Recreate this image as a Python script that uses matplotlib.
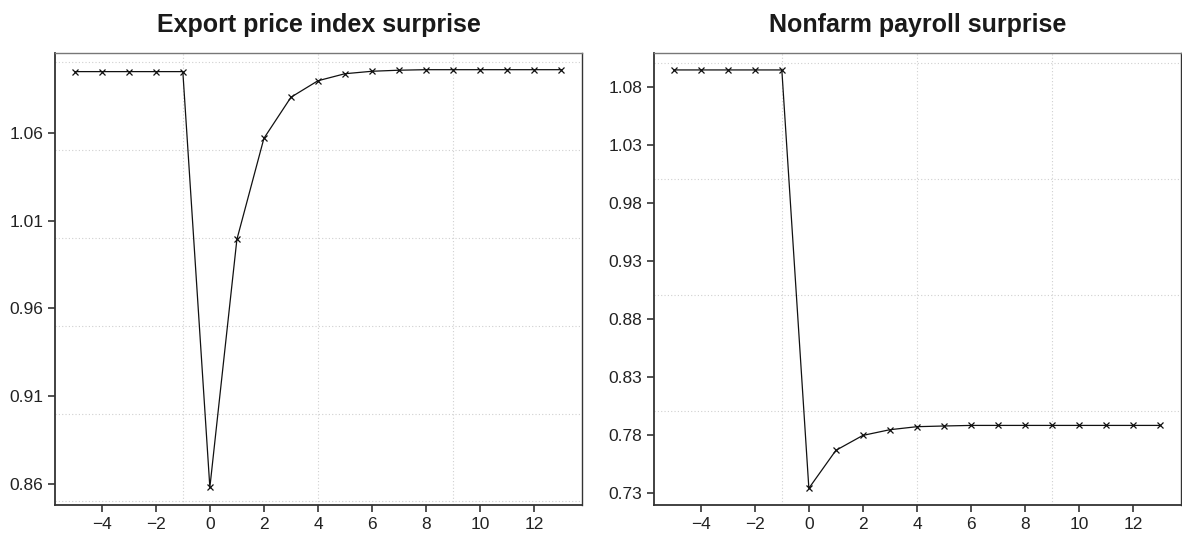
import matplotlib
matplotlib.use("Agg")
import matplotlib.pyplot as plt

plt.rcParams['font.family'] = ['Liberation Sans', 'DejaVu Sans']

horizons = list(range(-5, 14))
export_price = [1.0948, 1.0948, 1.0948, 1.0948, 1.0948, 0.858, 0.9992, 1.0568, 1.0802,
                1.0896, 1.0936, 1.0950, 1.0956, 1.0959, 1.0959, 1.0959, 1.0959, 1.0959, 1.0959]
nonfarm = [1.0944, 1.0944, 1.0944, 1.0944, 1.0944, 0.7338, 0.7665, 0.7794, 0.7843,
           0.7869, 0.7875, 0.7880, 0.7880, 0.7880, 0.7880, 0.7880, 0.7880, 0.7880, 0.7880]

titles = ["Export price index surprise", "Nonfarm payroll surprise"]
xticks = [-4, -2, 0, 2, 4, 6, 8, 10, 12]
yticks_left = [0.86, 0.91, 0.96, 1.01, 1.06]
yticks_right = [0.73, 0.78, 0.83, 0.88, 0.93, 0.98, 1.03, 1.08]
xgrid = [-1, 4, 9]
ygrid_left = [0.85, 0.90, 0.95, 1.00, 1.05, 1.10]
ygrid_right = [0.80, 0.90, 1.00, 1.10]
ylims = [(0.848, 1.1054), (0.7194, 1.109)]

fig = plt.figure(figsize=(11.82, 5.36), dpi=100)
ax1 = fig.add_axes([55/1182, 1-505/536, (582-55)/1182, (505-53)/536])
ax2 = fig.add_axes([654/1182, 1-505/536, (1181-654)/1182, (505-53)/536])

for ax, y, title, yt, yg, yl in [(ax1, export_price, titles[0], yticks_left, ygrid_left, ylims[0]),
                                 (ax2, nonfarm, titles[1], yticks_right, ygrid_right, ylims[1])]:
    for gx in xgrid:
        ax.axvline(gx, color='#d0d0d0', lw=0.8, ls=(0, (1, 2)), zorder=0)
    for gy in yg:
        ax.axhline(gy, color='#d0d0d0', lw=0.8, ls=(0, (1, 2)), zorder=0)
    ax.plot(horizons, y, color='#111111', lw=0.9, marker='x', markersize=4.5,
            markeredgewidth=0.9, zorder=3)
    ax.set_xlim(-5.73, 13.77)
    ax.set_ylim(*yl)
    ax.set_xticks(xticks)
    ax.set_xticklabels([f"\u2212{abs(v)}" if v < 0 else str(v) for v in xticks])
    ax.set_yticks(yt)
    ax.set_yticklabels([f"{v:.2f}" for v in yt])
    ax.tick_params(axis='both', direction='out', length=5, width=1.2, color='#333333',
                   labelsize=12.5, labelcolor='#222222', pad=3.5)
    ax.spines['left'].set_color('#333333')
    ax.spines['bottom'].set_color('#333333')
    ax.spines['left'].set_linewidth(1.3)
    ax.spines['bottom'].set_linewidth(1.3)
    ax.spines['top'].set_color('#777777')
    ax.spines['right'].set_color('#333333')
    ax.spines['top'].set_linewidth(1.0)
    ax.spines['right'].set_linewidth(1.0)
    ax.set_title(title, fontsize=18, fontweight='bold', pad=15, color='#1a1a1a')

fig.savefig("out.png", dpi=100)
